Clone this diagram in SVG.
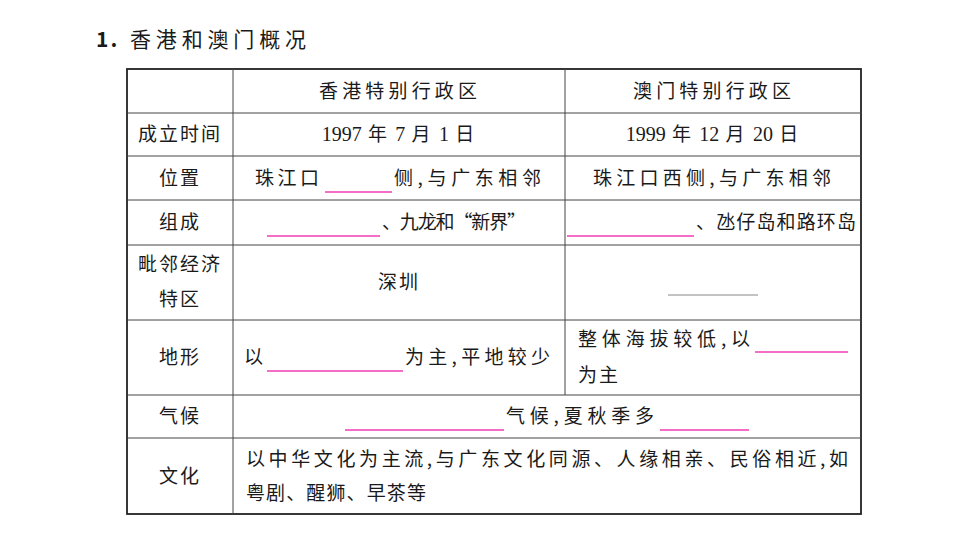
<svg xmlns="http://www.w3.org/2000/svg" width="960" height="540" viewBox="0 0 960 540">
<style>
text{font-family:"Noto Sans CJK SC","Noto Sans",sans-serif;font-size:19px;fill:#1a1a1a;letter-spacing:2px}
.c{text-anchor:middle}
.n{font-family:"Liberation Serif",serif;letter-spacing:0}
.g{stroke:#444;stroke-width:1;fill:none}
.p{stroke:#f03cb4;stroke-width:1.3}
</style>
<rect width="960" height="540" fill="#fff"/>
<text x="96" y="47" style="font-size:21px;font-weight:bold">1.</text>
<text x="130" y="47" style="font-size:21px" textLength="178" lengthAdjust="spacing">香港和澳门概况</text>
<g id="grid">
<rect x="127" y="69" width="734" height="445" style="stroke:#222;stroke-width:1.8;fill:none"/>
<path class="g" d="M127 113H861M127 156H861M127 200H861M127 245H861M127 320H861M127 395H861M127 438H861M233 69V514M565 69V395"/>
</g>
<g id="header">
<text x="319" y="98" textLength="160" lengthAdjust="spacing">香港特别行政区</text>
<text x="633" y="98" textLength="160" lengthAdjust="spacing">澳门特别行政区</text>
</g>
<g id="labels">
<text class="c" x="180" y="141">成立时间</text>
<text class="c" x="180" y="185">位置</text>
<text class="c" x="180" y="229">组成</text>
<text class="c" x="180" y="271">毗邻经济</text>
<text class="c" x="180" y="306">特区</text>
<text class="c" x="180" y="364">地形</text>
<text class="c" x="180" y="423">气候</text>
<text class="c" x="180" y="483">文化</text>
</g>
<g id="cells">
<text class="c" x="399" y="141"><tspan class="n" style="font-size:20px">1997</tspan> 年 <tspan class="n" style="font-size:20px">7</tspan> 月 <tspan class="n" style="font-size:20px">1</tspan> 日</text>
<text class="c" x="713" y="141"><tspan class="n" style="font-size:20px">1999</tspan> 年 <tspan class="n" style="font-size:20px">12</tspan> 月 <tspan class="n" style="font-size:20px">20</tspan> 日</text>
<text x="255" y="185" textLength="66" lengthAdjust="spacing">珠江口</text>
<line class="p" x1="325" y1="192" x2="392" y2="192"/>
<text x="394" y="185" textLength="149" lengthAdjust="spacing">侧,与广东相邻</text>
<text x="593" y="185" textLength="240" lengthAdjust="spacing">珠江口西侧,与广东相邻</text>
<line class="p" x1="267" y1="236" x2="380" y2="236"/>
<text x="382" y="229" textLength="146" lengthAdjust="spacing">、九龙和“新界”</text>
<line class="p" x1="567" y1="236" x2="694" y2="236"/>
<text x="696" y="229" textLength="162" lengthAdjust="spacing">、氹仔岛和路环岛</text>
<text class="c" x="399" y="289">深圳</text>
<line x1="668" y1="295" x2="758" y2="295" style="stroke:#888;stroke-width:1"/>
<text x="244" y="364">以</text>
<line class="p" x1="267" y1="371" x2="403" y2="371"/>
<text x="405" y="364" textLength="147" lengthAdjust="spacing">为主,平地较少</text>
<text x="578" y="346" textLength="174" lengthAdjust="spacing">整体海拔较低,以</text>
<line class="p" x1="755" y1="352" x2="848" y2="352"/>
<text x="578" y="382">为主</text>
<line class="p" x1="345" y1="430" x2="504" y2="430"/>
<text x="506" y="423" textLength="150" lengthAdjust="spacing">气候,夏秋季多</text>
<line class="p" x1="660" y1="430" x2="749" y2="430"/>
<text x="246" y="466" textLength="604" lengthAdjust="spacing">以中华文化为主流,与广东文化同源、人缘相亲、民俗相近,如</text>
<text x="246" y="500" textLength="182" lengthAdjust="spacing">粤剧、醒狮、早茶等</text>
</g>
</svg>
